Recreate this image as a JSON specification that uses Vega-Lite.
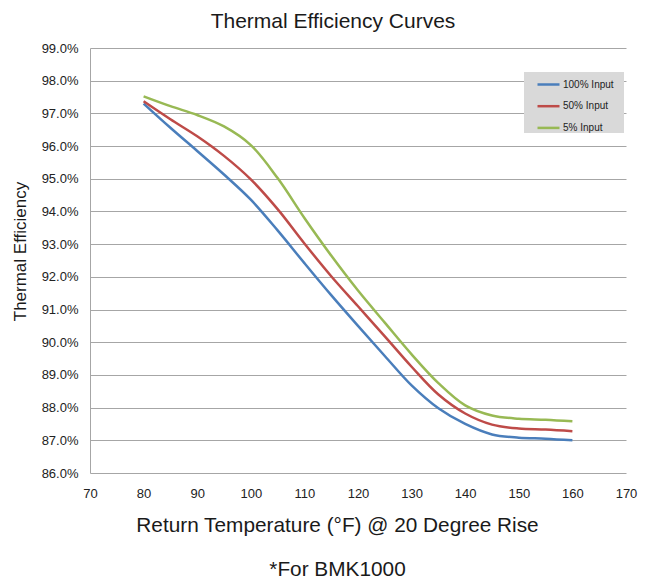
{
  "$schema": "https://vega.github.io/schema/vega-lite/v6.json",
  "width": 536,
  "height": 425,
  "autosize": "none",
  "padding": {"left": 90, "top": 48, "right": 23, "bottom": 106},
  "background": "white",
  "config": {
    "font": "Liberation Sans",
    "view": {"stroke": null}
  },
  "title": {
    "text": "Thermal Efficiency Curves",
    "fontSize": 21,
    "fontWeight": "normal",
    "color": "#1a1a1a",
    "anchor": "middle",
    "dx": -25,
    "offset": 10
  },
  "data": {
    "values": [
      {"temp": 80, "series": "100% Input", "eff": 97.3},
      {"temp": 85, "series": "100% Input", "eff": 96.56},
      {"temp": 90, "series": "100% Input", "eff": 95.85},
      {"temp": 95, "series": "100% Input", "eff": 95.13},
      {"temp": 100, "series": "100% Input", "eff": 94.36},
      {"temp": 105, "series": "100% Input", "eff": 93.42},
      {"temp": 110, "series": "100% Input", "eff": 92.42},
      {"temp": 115, "series": "100% Input", "eff": 91.44},
      {"temp": 120, "series": "100% Input", "eff": 90.5},
      {"temp": 125, "series": "100% Input", "eff": 89.58},
      {"temp": 130, "series": "100% Input", "eff": 88.68},
      {"temp": 135, "series": "100% Input", "eff": 87.98},
      {"temp": 140, "series": "100% Input", "eff": 87.5},
      {"temp": 145, "series": "100% Input", "eff": 87.18},
      {"temp": 150, "series": "100% Input", "eff": 87.08},
      {"temp": 155, "series": "100% Input", "eff": 87.05},
      {"temp": 160, "series": "100% Input", "eff": 87.0},
      {"temp": 80, "series": "50% Input", "eff": 97.37},
      {"temp": 85, "series": "50% Input", "eff": 96.82},
      {"temp": 90, "series": "50% Input", "eff": 96.3},
      {"temp": 95, "series": "50% Input", "eff": 95.7},
      {"temp": 100, "series": "50% Input", "eff": 94.98},
      {"temp": 105, "series": "50% Input", "eff": 94.07},
      {"temp": 110, "series": "50% Input", "eff": 93.02},
      {"temp": 115, "series": "50% Input", "eff": 92.02},
      {"temp": 120, "series": "50% Input", "eff": 91.1},
      {"temp": 125, "series": "50% Input", "eff": 90.18},
      {"temp": 130, "series": "50% Input", "eff": 89.25},
      {"temp": 135, "series": "50% Input", "eff": 88.4},
      {"temp": 140, "series": "50% Input", "eff": 87.82},
      {"temp": 145, "series": "50% Input", "eff": 87.48},
      {"temp": 150, "series": "50% Input", "eff": 87.36},
      {"temp": 155, "series": "50% Input", "eff": 87.33},
      {"temp": 160, "series": "50% Input", "eff": 87.28},
      {"temp": 80, "series": "5% Input", "eff": 97.52},
      {"temp": 85, "series": "5% Input", "eff": 97.22},
      {"temp": 90, "series": "5% Input", "eff": 96.95},
      {"temp": 95, "series": "5% Input", "eff": 96.6},
      {"temp": 100, "series": "5% Input", "eff": 96.03},
      {"temp": 105, "series": "5% Input", "eff": 95.02},
      {"temp": 110, "series": "5% Input", "eff": 93.8},
      {"temp": 115, "series": "5% Input", "eff": 92.65},
      {"temp": 120, "series": "5% Input", "eff": 91.58},
      {"temp": 125, "series": "5% Input", "eff": 90.6},
      {"temp": 130, "series": "5% Input", "eff": 89.63},
      {"temp": 135, "series": "5% Input", "eff": 88.75},
      {"temp": 140, "series": "5% Input", "eff": 88.07},
      {"temp": 145, "series": "5% Input", "eff": 87.76},
      {"temp": 150, "series": "5% Input", "eff": 87.66},
      {"temp": 155, "series": "5% Input", "eff": 87.63},
      {"temp": 160, "series": "5% Input", "eff": 87.58}
    ]
  },
  "mark": {"type": "line", "interpolate": "catmull-rom", "strokeWidth": 2.5},
  "encoding": {
    "x": {
      "field": "temp",
      "type": "quantitative",
      "scale": {"domain": [70, 170], "nice": false, "zero": false},
      "axis": {
        "values": [70, 80, 90, 100, 110, 120, 130, 140, 150, 160, 170],
        "grid": false,
        "domain": false,
        "ticks": false,
        "labelFontSize": 13,
        "labelColor": "#222222",
        "labelPadding": 14,
        "labelFlush": false,
        "title": ["Return Temperature (°F) @ 20 Degree Rise", "*For BMK1000"],
        "titleFontSize": 20.8,
        "titleFontWeight": "normal",
        "titleColor": "#1a1a1a",
        "titleLineHeight": 44,
        "titleX": 247,
        "titleY": 42,
        "titleBaseline": "top",
        "titleAnchor": "middle",
        "titleAlign": "center"
      }
    },
    "y": {
      "field": "eff",
      "type": "quantitative",
      "scale": {"domain": [86, 99], "nice": false, "zero": false},
      "axis": {
        "values": [86, 87, 88, 89, 90, 91, 92, 93, 94, 95, 96, 97, 98, 99],
        "labelExpr": "format(datum.value, '.1f') + '%'",
        "grid": true,
        "gridColor": "#a6a6a6",
        "gridWidth": 1,
        "domain": true,
        "domainColor": "#a6a6a6",
        "ticks": false,
        "labelFontSize": 13,
        "labelColor": "#222222",
        "labelPadding": 12,
        "title": "Thermal Efficiency",
        "titleFontSize": 17,
        "titleFontWeight": "normal",
        "titleColor": "#1a1a1a",
        "titlePadding": 12,
        "titleY": 203
      }
    },
    "color": {
      "field": "series",
      "type": "nominal",
      "scale": {
        "domain": ["100% Input", "50% Input", "5% Input"],
        "range": ["#4a7ebb", "#be4b48", "#98b954"]
      },
      "legend": {
        "title": ".",
        "titleOrient": "right",
        "titleColor": "#d9d9d9",
        "titleFontSize": 6,
        "titlePadding": 8,
        "orient": "none",
        "legendX": 434,
        "legendY": 24,
        "fillColor": "#d9d9d9",
        "strokeColor": null,
        "padding": 0,
        "symbolType": "stroke",
        "symbolSize": 484,
        "symbolStrokeWidth": 2.5,
        "symbolOffset": 12,
        "labelOffset": 2,
        "labelFontSize": 10,
        "labelColor": "#222222",
        "rowPadding": 3.7
      }
    }
  }
}
